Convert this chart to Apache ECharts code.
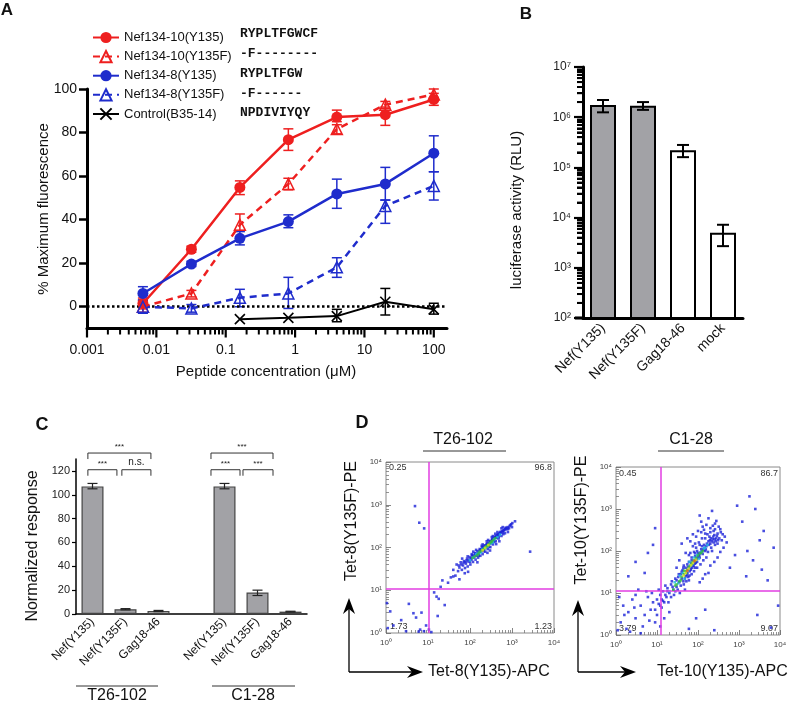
<!DOCTYPE html>
<html><head><meta charset="utf-8">
<script src="https://cdn.jsdelivr.net/npm/echarts@6/dist/echarts.min.js"></script>
<style>html,body{margin:0;padding:0;background:#fff}#wrap{position:relative;width:793px;height:709px}#c,#cb{position:absolute;left:0;top:0;width:793px;height:709px}#cb{pointer-events:none}</style>
</head><body><div id="wrap"><div id="c"></div><div id="cb"></div></div>
<script>
// ---------------- Panel A data ----------------
const concA = [0.0064, 0.032, 0.16, 0.8, 4, 20, 100];
const nef10Y = [1.5, 26.4, 54.8, 76.7, 87.1, 88.2, 95.2];
const nef10YLo = [-1, 25, 51.5, 71.8, 85, 83.3, 92.5];
const nef10YHi = [4, 27.8, 57.8, 81.7, 90.3, 91.7, 98];
const nef10F = [0, 6.1, 37.6, 56.4, 81.6, 92.8, 97.5];
const nef10FLo = [-3, 4.5, 35, 53.7, 79.4, 91, 95];
const nef10FHi = [3, 7.5, 42.6, 59, 83.6, 94.3, 100];
const nef8Y = [6.1, 19.6, 31.4, 39.1, 51.8, 56.4, 70.5];
const nef8YLo = [3, 18.5, 28.4, 36.3, 45.2, 49, 62];
const nef8YHi = [9.2, 20.8, 34.5, 42.2, 58.6, 64, 78.5];
const nef8F = [0, -0.8, 4.1, 6.1, 18.1, 46.3, 55.5];
const nef8FLo = [-3, -2.5, 0, -0.8, 13.5, 38.3, 49];
const nef8FHi = [3, 1, 8, 13.5, 22.5, 49, 62];
const concCtrl = [0.16, 0.8, 4, 20, 100];
const ctrl = [-5.7, -5.1, -4.3, 2.3, -1.2];
const ctrlLo = [null, null, -6.9, -3.8, -3.4];
const ctrlHi = [null, null, -1.2, 8.4, 1.6];
const legendA = ['Nef134-10(Y135)', 'Nef134-10(Y135F)', 'Nef134-8(Y135)', 'Nef134-8(Y135F)', 'Control(B35-14)'];
const seqA = ['RYPLTFGWCF', '-F--------', 'RYPLTFGW', '-F------', 'NPDIVIYQY'];
const xTicksA = [0.001, 0.01, 0.1, 1, 10, 100];

// ---------------- Panel B data ----------------
const catsB = ['Nef(Y135)', 'Nef(Y135F)', 'Gag18-46', 'mock'];
const valsB = [1.75e6, 1.7e6, 2.2e5, 5.0e3];
const errLoB = [1.25e6, 1.4e6, 1.6e5, 2.7e3];
const errHiB = [2.2e6, 2.0e6, 2.8e5, 7.2e3];

// ---------------- Panel C data ----------------
const catsC = ['Nef(Y135)', 'Nef(Y135F)', 'Gag18-46', '', 'Nef(Y135)', 'Nef(Y135F)', 'Gag18-46'];
const valsC = [107, 4, 2.5, null, 107, 18, 2];
const errLoC = [105, 3.5, 2, null, 105, 15.5, 1.7];
const errHiC = [109.5, 4.5, 3, null, 109.5, 20, 2.3];
const groupsC = ['T26-102', 'C1-28'];
const bracketsC = [[-0.14, 1.77, 135], [-0.14, 0.74, 121], [0.89, 1.77, 121], [3.59, 5.47, 135], [3.59, 4.47, 121], [4.56, 5.47, 121]];
const bracketLabelsC = ['***', '***', 'n.s.', '***', '***', '***'];

// ---------------- Panel D data ----------------
const t26Blue = [[48,40],[52,28],[56,34],[60,45],[64,30],[68,38],[72,48],[76,33],[80,42],[85,55],[88,36],[92,47],[98,60],[102,40],[108,52],[112,66],[118,46],[124,58],[130,74],[136,52],[142,64],[150,82],[156,58],[162,72],[170,92],[176,64],[184,80],[195,102],[200,70],[210,88],[222,112],[230,80],[242,98],[255,125],[265,92],[278,112],[292,140],[305,102],[320,126],[338,158],[352,118],[370,148],[392,180],[410,140],[430,168],[455,205],[478,162],[500,196],[530,232],[560,186],[600,226],[640,262],[680,215],[730,268],[790,300],[850,282],[920,335],[1020,372],[1180,410],[700,290],[400,210],[250,140],[120,80],[65,55],[75,25],[150,45],[300,85],[500,140],[800,230],[1000,300],[45,22],[40,30],[90,27],[560,280],[330,175],[190,110],[110,70],[260,75],[420,120],
  [54,38],[62,40],[70,44],[78,46],[83,50],[95,52],[105,56],[115,62],[128,66],[135,72],[145,70],[158,78],[168,84],[178,88],[188,92],[205,96],[215,104],[228,106],[238,112],[248,118],[262,120],[285,126],[298,134],[315,142],[335,148],[345,152],[365,162],[385,170],[405,176],[425,186],[445,192],[470,198],[490,210],[515,218],[545,224],[575,240],[610,246],[650,250],[690,270],[740,285],[800,270],[880,320],[960,350],[100,46],[160,64],[215,82],[285,104],[375,135],[480,175],[620,205],[88,62],[140,88],[200,118],[270,150],[350,185],[450,230],[600,300],
  [4.9,930],[6.2,380],[8.1,280],[2700,80],[1.26,3.2],[4.5,2.9],[16,7.1],[18,6.3],[25,4.5],[40,21],[56,18],[6.5,1.2],[1.5,1.5],[2.3,2],[3.5,4.8],[5.2,2.3],[14,8.9],[7,3],[9,1.5],[3,1.1],[20,12],[30,15],[8,1.1],[12,1.05],[6,1.08],[1.1,1.3],[10.5,1.2],[17,2.5],[22,17],[35,20],[1.05,5]];
const t26Cyan = [[120,58],[180,76],[240,100],[300,125],[380,155],[450,175],[140,70],[260,105],[100,50],[200,92],[350,132],[520,200],[160,75],[225,96],[320,128]];
const t26Green = [[130,62],[160,72],[190,85],[220,95],[250,108],[280,118],[320,135],[360,150],[170,80],[210,90],[270,112],[330,140],[150,66],[400,165],[115,57],[240,104],[300,128]];
const t26Yellow = [[200,86],[230,98],[275,114]];
const c128Blue = [[9,4],[11,5.5],[13,7],[15,6],[12,9],[17,8],[20,10],[14,11],[18,13],[22,8],[25,12],[10,7],[16,15],[24,14],[28,11],[13,4.5],[19,6],[11,12],
  [30,14],[35,18],[40,22],[45,16],[50,25],[38,28],[55,30],[60,20],[42,35],[65,38],[70,28],[48,12],[75,45],[33,24],[58,42],[80,33],[52,19],[68,52],[36,10],[44,40],[62,26],[85,40],[30,20],[55,48],
  [70,60],[85,75],[95,55],[100,90],[110,70],[120,110],[130,85],[90,120],[140,140],[150,100],[160,130],[175,95],[180,170],[200,150],[210,120],[230,190],[240,160],[260,140],[105,160],[125,200],[80,95],[95,40],[115,48],[135,60],[190,220],[60,80],[75,130],[160,70],[220,100],[280,200],[300,150],[250,240],
  [40,150],[55,200],[75,250],[100,300],[130,380],[160,420],[200,350],[240,300],[300,260],[280,520],[180,600],[220,900],[120,500],[65,170],[350,330],[400,250],[330,200],[380,180],[450,220],[500,160],[150,260],[90,220],[260,450],[110,700],
  [420,120],[350,95],[300,70],[250,55],[200,45],[180,30],[150,28],[130,22],[110,18],
  [26,9],[32,12],[38,15],[44,19],[48,22],[54,27],[58,24],[63,33],[67,36],[72,40],[78,44],[83,50],[88,52],[93,64],[98,70],[103,76],[108,82],[115,92],[125,98],[135,108],[145,120],[155,110],[165,150],[185,140],[195,180],[205,200],[215,170],[235,220],[255,190],[270,170],[290,230],[310,180],[125,130],[110,140],[95,100],[85,88],[70,70],[60,55],[50,40],[40,32],[34,28],[28,22],[22,16],[18,11],[16,9],[14,6.5],[12,5],[23,19],[45,45],[65,90],[85,150],[150,200],[170,250],[200,280],[230,400],[120,280],[140,320],[320,380],[360,280],[260,330],[35,60],[50,90],[30,40],
  [3200,180],[3600,36],[1600,100],[2200,60],[1200,500],[2500,1000],[900,1200],[600,40],[800,80],[4000,300],[5000,20],[2800,3],[9000,5],[6000,1.5],[150,4],[90,2.5],[60,1.4],[1800,2000],[7000,120],[1500,25],[250,1.3],
  [1.3,2],[2,3.5],[1.8,1.4],[3,2.5],[4,5],[2.5,7],[5,3],[6,8],[3.5,12],[7,4],[8,6],[1.5,5],[4.5,1.6],[9,2],[2.2,1.2],[5.5,11],[6.5,2.2],[1.2,8],[3,9],[7.5,10],[1.6,3],[10,3],[2.8,4.5],[1.1,1.3],[4,1.1],[12,1.6],[15,2.5],[20,3.5],
  [3,55],[6,90],[8,140],[2,25],[9,350],[5,30]];
const c128Cyan = [[20,11],[33,17],[42,30],[58,35],[72,48],[95,80],[120,95],[150,120],[27,18],[47,22],[62,55],[105,65],[140,115],[36,26],[80,70],[170,140]];
const c128Green = [[25,12],[30,16],[35,19],[40,24],[45,28],[50,33],[55,36],[60,42],[70,50],[80,60],[90,68],[100,78],[110,88],[130,100],[38,20],[52,30],[65,45],[85,58],[28,15],[120,90],[75,55],[46,34]];
const c128Yellow = [[50,30],[60,38],[75,52],[45,26],[90,62],[68,46]];
const c128Orange = [[55,34],[82,58]];
const gateT26 = [10.5, 10.7];
const gateC128 = [12.5, 11.2];
const quadT26 = ['0.25', '96.8', '1.73', '1.23'];
const quadC128 = ['0.45', '86.7', '3.79', '9.07'];

// ---------------- layout / styles / helpers ----------------
const FONT = '"Liberation Sans", Arial, Helvetica, sans-serif';
const MONO = '"Liberation Mono", "Courier New", monospace';
const RED = '#ee1f1f', BLUE = '#1f2ccc', GRAY = '#a2a2a6', MAGENTA = '#e23ee2';
const B_FILLS = [GRAY, GRAY, '#ffffff', '#ffffff'];
const C_FILLS = [GRAY, GRAY, '#ffffff', GRAY, GRAY, GRAY, '#ffffff'];
const GRID_B = {left: 583, top: 67, width: 160, height: 251};
const GRIDS = [
  {left: 87, top: 89, width: 360, height: 239.5},
  {left: 87, top: 89, width: 360, height: 217.5},
  {left: 76, top: 459, width: 231, height: 155},
  {left: 386, top: 462, width: 168, height: 171, show: true, borderColor: '#8a8a8a', borderWidth: 1},
  {left: 616, top: 467, width: 164, height: 168, show: true, borderColor: '#8a8a8a', borderWidth: 1}
];
const SUP = {'0':'⁰','1':'¹','2':'²','3':'³','4':'⁴','5':'⁵','6':'⁶','7':'⁷','8':'⁸','9':'⁹','-':'⁻'};
function isDecade(v){ const l = Math.log10(v); return Math.abs(l - Math.round(l)) < 1e-6; }
function powLabel(v){ if (!isDecade(v)) return ''; const e = Math.round(Math.log10(v)); return '10' + String(e).split('').map(c => SUP[c]).join(''); }
function minorDecades(e0, e1){ const out = []; for (let e = e0; e < e1; e++) for (let k = 2; k <= 9; k++) out.push(+(k * Math.pow(10, e)).toPrecision(6)); return out; }

function errRender(color, half, lw){
  return function(params, api){
    const x = api.value(0), lo = api.value(1), hi = api.value(2);
    const p1 = api.coord([x, lo]), p2 = api.coord([x, hi]);
    const st = {stroke: color, lineWidth: lw};
    return {type:'group', children:[
      {type:'line', shape:{x1:p1[0], y1:p1[1], x2:p2[0], y2:p2[1]}, style:st},
      {type:'line', shape:{x1:p1[0]-half, y1:p1[1], x2:p1[0]+half, y2:p1[1]}, style:st},
      {type:'line', shape:{x1:p2[0]-half, y1:p2[1], x2:p2[0]+half, y2:p2[1]}, style:st}
    ]};
  };
}
function tickRender(len, lw, color){
  return function(params, api){
    const cs = params.coordSys;
    const p = api.coord([api.value(0), api.value(1)]);
    const y0 = cs.y + cs.height;
    return {type:'line', shape:{x1:p[0], y1:y0, x2:p[0], y2:y0 + len}, style:{stroke:color, lineWidth:lw}};
  };
}
function errData(xs, lo, hi){ const out = []; xs.forEach((x, i) => { if (lo[i] != null) out.push([x, lo[i], hi[i]]); }); return out; }
function pairs(xs, ys){ return xs.map((x, i) => [x, ys[i]]); }

const series = [];
// ---- A lines
const lineDefs = [
  {name: legendA[0], ys: nef10Y, color: RED, dashed: false, sym: 'circle'},
  {name: legendA[1], ys: nef10F, color: RED, dashed: true, sym: 'triangle'},
  {name: legendA[2], ys: nef8Y, color: BLUE, dashed: false, sym: 'circle'},
  {name: legendA[3], ys: nef8F, color: BLUE, dashed: true, sym: 'triangle'}
];
lineDefs.forEach(d => {
  series.push({
    name: d.name, type: 'line', xAxisIndex: 0, yAxisIndex: 0, data: pairs(concA, d.ys),
    symbol: d.sym, symbolSize: 11, z: 5,
    lineStyle: {color: d.color, width: 2.5, type: d.dashed ? [7, 5] : 'solid'},
    itemStyle: d.sym === 'circle' ? {color: d.color} : {color: 'rgba(255,255,255,0)', borderColor: d.color, borderWidth: 1.5},
    emphasis: {disabled: true}, silent: true
  });
});
series.push({
  name: legendA[4], type: 'line', xAxisIndex: 0, yAxisIndex: 0, data: pairs(concCtrl, ctrl),
  symbol: 'path://M0,0L10,10M0,10L10,0', symbolSize: 10, z: 5,
  lineStyle: {color: '#000', width: 2}, itemStyle: {color: '#000', borderColor: '#000', borderWidth: 1.6},
  emphasis: {disabled: true}, silent: true,
  markLine: {silent: true, symbol: 'none', label: {show: false}, lineStyle: {color: '#000', width: 2.5, type: 'dotted'}, data: [{yAxis: 0}]}
});
[[nef10YLo, nef10YHi, RED], [nef10FLo, nef10FHi, RED], [nef8YLo, nef8YHi, BLUE], [nef8FLo, nef8FHi, BLUE]].forEach(e => {
  series.push({type: 'custom', xAxisIndex: 0, yAxisIndex: 0, data: errData(concA, e[0], e[1]), encode: {x: 0, y: [1, 2]}, renderItem: errRender(e[2], 5, 1.5), z: 4, silent: true});
});
series.push({type: 'custom', xAxisIndex: 0, yAxisIndex: 0, data: errData(concCtrl, ctrlLo, ctrlHi), encode: {x: 0, y: [1, 2]}, renderItem: errRender('#000', 5, 1.5), z: 4, silent: true});
series.push({type: 'custom', xAxisIndex: 0, yAxisIndex: 0, clip: false, data: xTicksA.map(v => [v, 0]), renderItem: tickRender(9, 2.2, '#000'), silent: true, z: 6});
series.push({type: 'custom', xAxisIndex: 0, yAxisIndex: 0, clip: false, data: minorDecades(-3, 2).map(v => [v, 0]), renderItem: tickRender(6, 2, '#000'), silent: true, z: 6});

// ---- C (grid 2)
series.push({type: 'bar', xAxisIndex: 2, yAxisIndex: 2, barWidth: 22, silent: true,
  data: valsC.map((v, i) => (v == null ? null : {value: v, itemStyle: {color: C_FILLS[i]}})),
  itemStyle: {borderColor: '#444', borderWidth: 1.2}, z: 3});
series.push({type: 'custom', xAxisIndex: 2, yAxisIndex: 2, data: errData(catsC.map((c, i) => i), errLoC, errHiC), encode: {x: 0, y: [1, 2]}, renderItem: errRender('#222', 5, 1.2), z: 4, silent: true});
series.push({type: 'custom', xAxisIndex: 5, yAxisIndex: 2, data: bracketsC, encode: {x: [0, 1], y: 2}, silent: true, z: 5, clip: false,
  renderItem: function(params, api){
    const a = api.coord([api.value(0), api.value(2)]), b = api.coord([api.value(1), api.value(2)]);
    const lab = bracketLabelsC[params.dataIndex];
    const st = {stroke: '#333', lineWidth: 1};
    return {type: 'group', children: [
      {type: 'polyline', shape: {points: [[a[0], a[1] + 6], [a[0], a[1]], [b[0], b[1]], [b[0], b[1] + 6]]}, style: Object.assign({fill: 'none'}, st)},
      {type: 'text', style: {text: lab, x: (a[0] + b[0]) / 2, y: a[1] - 2, align: 'center', verticalAlign: 'bottom', fontSize: lab === 'n.s.' ? 10 : 8, fontFamily: FONT, fill: '#222'}}
    ]};
  }});

// ---- D (grids 3, 4)
function flowSeries(xi, arr, color, size, z){ return {type: 'scatter', xAxisIndex: xi, yAxisIndex: xi, data: arr, symbol: 'rect', symbolSize: size, itemStyle: {color: color}, silent: true, z: z}; }
function gateLine(g){ return {silent: true, symbol: 'none', label: {show: false}, lineStyle: {color: MAGENTA, width: 1.5, type: 'solid', opacity: 1}, data: [{xAxis: g[0]}, {yAxis: g[1]}]}; }
const sb = flowSeries(3, t26Blue, '#1c22d8', 2.6, 3); sb.markLine = gateLine(gateT26); series.push(sb);
series.push(flowSeries(3, t26Cyan, '#22bbdd', 2.6, 4));
series.push(flowSeries(3, t26Green, '#33bb44', 2.6, 5));
series.push(flowSeries(3, t26Yellow, '#dddd22', 2.6, 6));
const sc = flowSeries(4, c128Blue, '#1c22d8', 2.6, 3); sc.markLine = gateLine(gateC128); series.push(sc);
series.push(flowSeries(4, c128Cyan, '#22bbdd', 2.6, 4));
series.push(flowSeries(4, c128Green, '#33bb44', 2.6, 5));
series.push(flowSeries(4, c128Yellow, '#dddd22', 2.6, 6));
series.push(flowSeries(4, c128Orange, '#ee6622', 2.6, 7));

function flowAxis(gi, margin){ return {type: 'log', gridIndex: gi, min: 1, max: 10000, axisLine: {show: false, onZero: false},
  axisTick: {show: true, inside: true, length: 5, lineStyle: {color: '#666', width: 0.8}},
  minorTick: {show: true, splitNumber: 9, length: 3, lineStyle: {color: '#777', width: 0.8}},
  axisLabel: {fontSize: 8, color: '#444', margin: margin, formatter: powLabel}, splitLine: {show: false}, minorSplitLine: {show: false}}; }

const T = (text, x, y, size, opts) => ({type: 'text', x: x, y: y, rotation: (opts && opts.rot) || 0, silent: true,
  style: {text: text, fontSize: size, fontFamily: (opts && opts.family) || FONT, fontWeight: (opts && opts.weight) || 'normal', fill: (opts && opts.fill) || '#111', align: (opts && opts.align) || 'center', verticalAlign: 'middle'}});
const L = (x1, y1, x2, y2, w, c) => ({type: 'line', silent: true, shape: {x1, y1, x2, y2}, style: {stroke: c || '#000', lineWidth: w || 1}});
const P = (pts) => ({type: 'polygon', silent: true, shape: {points: pts}, style: {fill: '#000'}});

const graphic = [
  T('A', 7, 10, 17, {weight: 'bold'}), T('B', 526, 14, 17, {weight: 'bold'}), T('C', 42, 425, 18, {weight: 'bold'}), T('D', 362, 423, 18, {weight: 'bold'}),
  T('% Maximum fluorescence', 44, 209, 15, {rot: Math.PI / 2}),
  T('Peptide concentration (\u03bcM)', 266, 372, 15),
  T('luciferase activity (RLU)', 517, 210, 15, {rot: Math.PI / 2}),
  T('Normalized response', 33, 546, 16, {rot: Math.PI / 2}),
  L(575, 318, 583, 318, 3),
  L(76, 686, 158, 686, 1, '#333'), L(212, 686, 295, 686, 1, '#333'),
  T(groupsC[0], 117, 696, 16), T(groupsC[1], 253, 696, 16),
  T('T26-102', 463, 440, 16), L(423, 451, 506, 451, 1, '#333'),
  T('C1-28', 691, 440, 16), L(658, 451, 724, 451, 1, '#333'),
  T('Tet-8(Y135F)-PE', 352, 521, 16, {rot: Math.PI / 2}),
  T('Tet-10(Y135F)-PE', 582, 520, 16, {rot: Math.PI / 2}),
  L(349, 672, 349, 606, 1.3), P([[349, 598], [343, 614], [349, 609], [355, 614]]),
  L(349, 672, 414, 672, 1.3), P([[423, 672], [407, 666], [412, 672], [407, 678]]),
  T('Tet-8(Y135)-APC', 428, 672, 16, {align: 'left'}),
  L(578, 672, 578, 608, 1.3), P([[578, 600], [572, 616], [578, 611], [584, 616]]),
  L(578, 672, 628, 672, 1.3), P([[636, 672], [620, 666], [625, 672], [620, 678]]),
  T('Tet-10(Y135)-APC', 657, 672, 16, {align: 'left'}),
  T(quadT26[0], 389, 468, 9, {align: 'left', fill: '#333'}), T(quadT26[1], 552, 468, 9, {align: 'right', fill: '#333'}),
  T(quadT26[2], 390, 627, 9, {align: 'left', fill: '#333'}), T(quadT26[3], 552, 627, 9, {align: 'right', fill: '#333'}),
  T(quadC128[0], 619, 474, 9, {align: 'left', fill: '#333'}), T(quadC128[1], 778, 474, 9, {align: 'right', fill: '#333'}),
  T(quadC128[2], 619, 629, 9, {align: 'left', fill: '#333'}), T(quadC128[3], 778, 629, 9, {align: 'right', fill: '#333'})
];
seqA.forEach((s, i) => graphic.push(T(s, 240, 34 + 19.8 * i, 13, {family: MONO, weight: 'bold', align: 'left'})));

const option = {
  animation: false,
  backgroundColor: '#fff',
  textStyle: {fontFamily: FONT},
  legend: {orient: 'vertical', left: 87, top: 26, itemWidth: 26, itemHeight: 14, itemGap: 6, data: legendA, selectedMode: false,
    textStyle: {fontSize: 13, color: '#111', fontFamily: FONT}},
  grid: GRIDS,
  xAxis: [
    {type: 'log', gridIndex: 0, min: 0.001, max: 155, axisLine: {onZero: false, lineStyle: {color: '#000', width: 3}}, axisTick: {show: false}, splitLine: {show: false},
      axisLabel: {fontSize: 14, color: '#111', margin: 15, showMaxLabel: false, formatter: v => (isDecade(v) && v <= 100.0001 ? String(+v.toPrecision(6)) : '')}},
    {type: 'value', gridIndex: 1, show: false, min: 0, max: 1},
    {type: 'category', gridIndex: 2, data: catsC, axisLine: {onZero: false, lineStyle: {color: '#000', width: 1.5}}, axisTick: {show: false},
      axisLabel: {rotate: 45, fontSize: 12, color: '#111', margin: 6, interval: 0}},
    flowAxis(3, 6), flowAxis(4, 6),
    {type: 'value', gridIndex: 2, show: false, min: -0.5, max: 6.5, position: 'top'}
  ],
  yAxis: [
    {type: 'value', gridIndex: 0, min: -10, max: 100, axisLine: {show: true, onZero: false, lineStyle: {color: '#000', width: 3}}, axisTick: {show: false}, axisLabel: {show: false}, splitLine: {show: false}},
    {type: 'value', gridIndex: 1, min: 0, max: 100, interval: 20, axisLine: {show: false, onZero: false}, axisTick: {show: true, length: 8, lineStyle: {color: '#000', width: 2.5}},
      axisLabel: {fontSize: 14, color: '#111', margin: 10}, splitLine: {show: false}},
    {type: 'value', gridIndex: 2, min: 0, max: 130, interval: 20, axisLine: {show: true, onZero: false, lineStyle: {color: '#000', width: 1.5}}, axisTick: {show: true, length: 4, lineStyle: {color: '#000', width: 1.2}},
      axisLabel: {fontSize: 11, color: '#222', margin: 6, showMaxLabel: false, formatter: v => (v > 120 ? '' : String(v))}, splitLine: {show: false}},
    flowAxis(3, 4), flowAxis(4, 4)
  ],
  series: series,
  graphic: graphic
};
const chart = echarts.init(document.getElementById('c'));
try { chart.setOption(option); } catch (e) {}

// ---------------- Panel B: its own chart instance, overlaid on the page ----------------
const optionB = {
  animation: false,
  textStyle: {fontFamily: FONT},
  grid: [GRID_B],
  xAxis: [
    {type: 'category', gridIndex: 0, data: catsB, axisLine: {onZero: false, lineStyle: {color: '#000', width: 3}}, axisTick: {show: false},
      axisLabel: {rotate: 45, fontSize: 14, color: '#111', margin: 8, interval: 0}},
    {type: 'value', gridIndex: 0, show: false, min: 0, max: 4, position: 'top'}
  ],
  yAxis: [
    {type: 'log', gridIndex: 0, min: 100, max: 1e7, axisLine: {show: true, onZero: false, lineStyle: {color: '#000', width: 3}},
      axisTick: {show: true, length: 9, lineStyle: {color: '#000', width: 2.2}},
      minorTick: {show: true, splitNumber: 9, length: 6, lineStyle: {color: '#000', width: 2}},
      axisLabel: {fontSize: 12, color: '#222', margin: 12, formatter: powLabel}, splitLine: {show: false}, minorSplitLine: {show: false}}
  ],
  series: [
    {type: 'bar', xAxisIndex: 0, yAxisIndex: 0, barWidth: 26, silent: true,
      data: valsB.map((v, i) => ({value: v, itemStyle: {color: B_FILLS[i]}})),
      itemStyle: {borderColor: '#000', borderWidth: 2}, z: 3},
    {type: 'custom', xAxisIndex: 0, yAxisIndex: 0, data: valsB.map((v, i) => [i, errLoB[i], errHiB[i]]), encode: {x: 0, y: [1, 2]}, renderItem: errRender('#000', 6, 2), z: 4, silent: true},
    {type: 'scatter', xAxisIndex: 1, yAxisIndex: 0, data: minorDecades(2, 7).map(v => [0, v]), symbol: 'rect', symbolSize: [6, 2], symbolOffset: [-3, 0],
      itemStyle: {color: '#000'}, clip: false, silent: true, z: 8}
  ]
};
const chartB = echarts.init(document.getElementById('cb'));
chartB.setOption(optionB);
</script>
</body></html>
